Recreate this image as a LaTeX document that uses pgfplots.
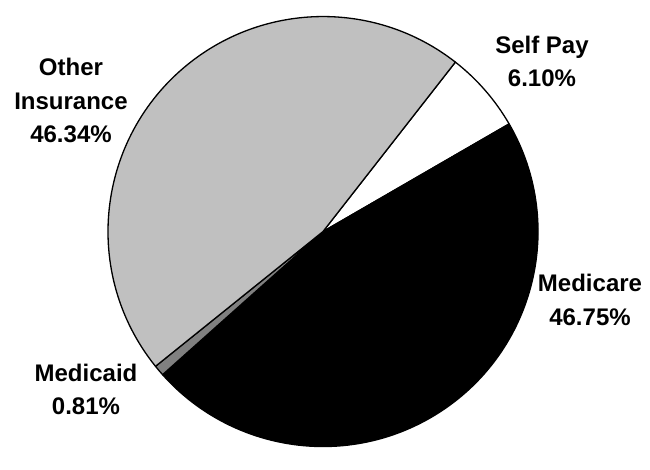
\documentclass[border=0pt]{standalone}
\usepackage{pgfplots}
\pgfplotsset{compat=1.18}
\usepackage{fontspec}
\setmainfont{Liberation Sans}
\definecolor{otherins}{HTML}{C0C0C0}
\definecolor{medicaidc}{HTML}{808080}
% shares in percent
\def\vSelf{6.10}
\def\vMedicare{46.75}
\def\vMedicaid{0.81}
\def\vOther{46.34}
\pgfmathsetmacro\aA{52}
\pgfmathsetmacro\aB{\aA-\vSelf*3.6}
\pgfmathsetmacro\aC{\aB-\vMedicare*3.6}
\pgfmathsetmacro\aD{\aC-\vMedicaid*3.6}
\pgfmathsetmacro\aE{\aD-\vOther*3.6}
\begin{document}
\begin{tikzpicture}
\begin{axis}[
  hide axis, scale only axis,
  width=650bp, height=440bp,
  xmin=0, xmax=650, ymin=0, ymax=440,
  clip=false,
]
\path (axis cs:0,0) rectangle (axis cs:650,440);
\filldraw[fill=white, draw=black, line width=1.3bp, line join=round]
  (axis cs:323,217) -- ++(\aA:215bp) arc[start angle=\aA, end angle=\aB, radius=215bp] -- cycle;
\filldraw[fill=black, draw=black, line width=1.3bp, line join=round]
  (axis cs:323,217) -- ++(\aB:215bp) arc[start angle=\aB, end angle=\aC, radius=215bp] -- cycle;
\filldraw[fill=medicaidc, draw=black, line width=1.3bp, line join=round]
  (axis cs:323,217) -- ++(\aC:215bp) arc[start angle=\aC, end angle=\aD, radius=215bp] -- cycle;
\filldraw[fill=otherins, draw=black, line width=1.3bp, line join=round]
  (axis cs:323,217) -- ++(\aD:215bp) arc[start angle=\aD, end angle=\aE, radius=215bp] -- cycle;

\begin{scope}[every node/.style={anchor=base, inner sep=0pt, font=\fontsize{24bp}{28bp}\selectfont\bfseries}]
\node at (axis cs:71,373) {Other};
\node at (axis cs:71,339) {Insurance};
\node at (axis cs:71,306) {46.34\%};
\node at (axis cs:542,395) {Self Pay};
\node at (axis cs:542,362) {6.10\%};
\node at (axis cs:590,157) {Medicare};
\node at (axis cs:590,123) {46.75\%};
\node at (axis cs:86,67) {Medicaid};
\node at (axis cs:86,34) {0.81\%};
\end{scope}
\end{axis}
\end{tikzpicture}
\end{document}
